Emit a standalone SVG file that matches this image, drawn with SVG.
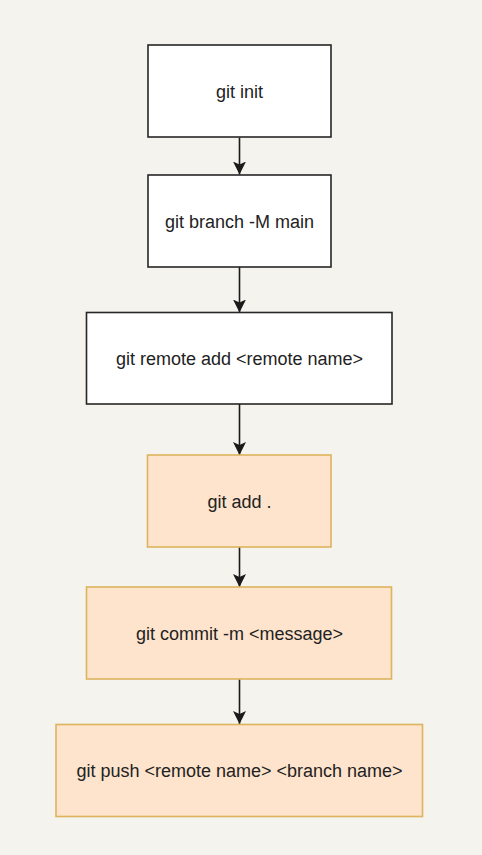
<svg xmlns="http://www.w3.org/2000/svg" width="482" height="855" viewBox="0 0 482 855">
  <style>
    .bg { fill: #f4f3ee; }
    .plain rect { fill: #ffffff; stroke: #262626; stroke-width: 1.6; }
    .orange rect { fill: #fee4cc; stroke: #ddb35c; stroke-width: 1.6; }
    text { font-family: "Liberation Sans", Arial, sans-serif; font-size: 18px; fill: #222222; text-anchor: middle; }
    .conn line { stroke: #1a1a1a; stroke-width: 1.6; }
  </style>
  <defs>
    <marker id="arrow" viewBox="0 0 14 14" refX="13" refY="7" markerWidth="14" markerHeight="14" markerUnits="userSpaceOnUse" orient="auto">
      <path d="M0,0.5 L13,7 L0,13.5 L3,7 Z" fill="#1a1a1a"/>
    </marker>
  </defs>
  <rect class="bg" x="0" y="0" width="482" height="855"/>

  <g class="conn">
    <line x1="239.5" y1="137.5" x2="239.5" y2="174.5" marker-end="url(#arrow)"/>
    <line x1="239.5" y1="267" x2="239.5" y2="312.5" marker-end="url(#arrow)"/>
    <line x1="239.5" y1="404" x2="239.5" y2="455" marker-end="url(#arrow)"/>
    <line x1="239.5" y1="547" x2="239.5" y2="587" marker-end="url(#arrow)"/>
    <line x1="239.5" y1="679" x2="239.5" y2="724" marker-end="url(#arrow)"/>
  </g>

  <g id="node-git-init" class="plain">
    <rect x="148" y="45" width="183" height="92"/>
    <text x="239.5" y="97.5">git init</text>
  </g>
  <g id="node-git-branch" class="plain">
    <rect x="148" y="175" width="183" height="92"/>
    <text x="239.5" y="227.5">git branch -M main</text>
  </g>
  <g id="node-git-remote" class="plain">
    <rect x="86.5" y="312.5" width="305.5" height="91.5"/>
    <text x="239.5" y="364.5">git remote add &lt;remote name&gt;</text>
  </g>
  <g id="node-git-add" class="orange">
    <rect x="147.5" y="455" width="183.5" height="92"/>
    <text x="239.5" y="507.5">git add .</text>
  </g>
  <g id="node-git-commit" class="orange">
    <rect x="86.5" y="587" width="305" height="92"/>
    <text x="239.5" y="639.5">git commit -m &lt;message&gt;</text>
  </g>
  <g id="node-git-push" class="orange">
    <rect x="56" y="724.5" width="366.5" height="92"/>
    <text x="239.5" y="777">git push &lt;remote name&gt; &lt;branch name&gt;</text>
  </g>
</svg>
